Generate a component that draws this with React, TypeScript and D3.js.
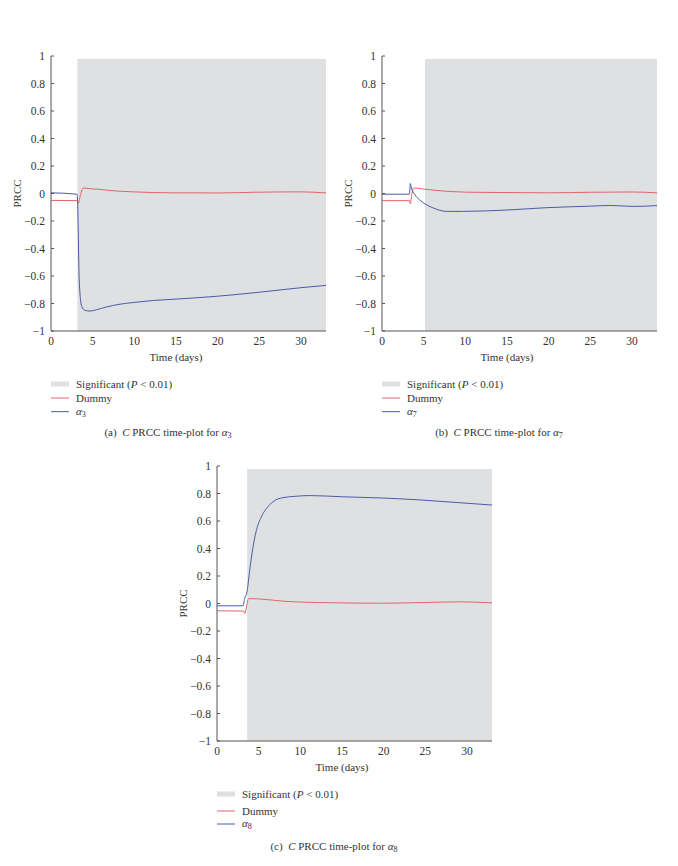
import { useRef, useEffect } from 'react';
import * as d3 from 'd3';

const xTicks = [0, 5, 10, 15, 20, 25, 30];
const yTicks = [1, 0.8, 0.6, 0.4, 0.2, 0, -0.2, -0.4, -0.6, -0.8, -1];

const dummyTimeA = [0, 3.15, 3.28, 3.5, 3.88, 5, 5.5, 7, 9.9, 14.3, 20.3, 24.3, 29.9, 33];
const dummyA = [-0.05, -0.052, -0.073, -0.02, 0.04, 0.033, 0.032, 0.022, 0.012, 0.005, 0.004, 0.009, 0.012, 0.004];
const alphaTimeA = [0, 3.1, 3.16, 3.4, 3.68, 4.08, 4.68, 5.48, 6.68, 8.28, 10, 12.3, 15, 20, 25, 30, 33];
const alpha3 = [0.005, -0.005, -0.02, -0.65, -0.82, -0.85, -0.855, -0.845, -0.825, -0.805, -0.792, -0.778, -0.768, -0.747, -0.718, -0.685, -0.668];

const dummyTimeB = [0, 3.3, 3.38, 3.6, 3.8, 5, 8, 10, 15, 20, 25, 30, 33];
const dummyB = [-0.052, -0.052, -0.075, 0.0, 0.04, 0.032, 0.015, 0.01, 0.007, 0.005, 0.009, 0.011, 0.005];
const alphaTimeB = [0, 3.3, 3.4, 3.53, 3.93, 4.5, 5.14, 6.14, 7.75, 9.76, 15, 19.8, 25, 27.4, 30.2, 33];
const alpha7 = [-0.005, -0.005, 0.072, 0.04, -0.007, -0.045, -0.075, -0.105, -0.13, -0.13, -0.12, -0.103, -0.092, -0.087, -0.094, -0.088];

const dummyTimeC = [0, 3.2, 3.32, 3.8, 5.9, 7.9, 10.3, 14.3, 20, 24.7, 29, 33];
const dummyC = [-0.053, -0.055, -0.073, 0.036, 0.029, 0.017, 0.01, 0.005, 0.002, 0.007, 0.012, 0.005];
const alphaTimeC = [0, 3.12, 3.32, 3.6, 3.92, 4.32, 4.72, 5.32, 5.92, 6.72, 7.92, 9.5, 11.1, 15.1, 19.9, 24.7, 29.1, 33];
const alpha8 = [-0.017, -0.017, 0.036, 0.085, 0.24, 0.41, 0.53, 0.63, 0.69, 0.74, 0.77, 0.78, 0.785, 0.776, 0.767, 0.752, 0.733, 0.716];

const shadeStarts = [3.16, 5.15, 3.62];
const panelLetters = ['a', 'b', 'c'];
const alphaIndex = ['3', '7', '8'];

const panels = [
  { x0: 51, top: 56, dT: dummyTimeA, d: dummyA, aT: alphaTimeA, a: alpha3, legend: [53, 67, 80.7, 101.5] },
  { x0: 382, top: 56, dT: dummyTimeB, d: dummyB, aT: alphaTimeB, a: alpha7, legend: [53, 67, 80.7, 101.5] },
  { x0: 217, top: 466, dT: dummyTimeC, d: dummyC, aT: alphaTimeC, a: alpha8, legend: [53, 70, 83, 105] },
];

const W = 275;
const H = 275;
const font = '"Liberation Serif", "Times New Roman", serif';
const RED = '#e3646a';
const BLUE = '#4c5ba6';
const SHADE = '#dfe0e2';
const AXIS = '#555';

const fmt = v => {
  if (v === 0) return '0';
  const s = Math.abs(v) === 1 ? '1' : Math.abs(v).toFixed(1);
  return (v < 0 ? '\u2212' : '') + s;
};

const App = () => {
  const ref = useRef(null);

  useEffect(() => {
    const svg = d3.select(ref.current);
    svg.selectAll('*').remove();
    svg.style('font-family', font);

    panels.forEach((p, i) => {
      const x = d3.scaleLinear().domain([0, 33]).range([p.x0, p.x0 + W]);
      const y = d3.scaleLinear().domain([-1, 1]).range([p.top + H, p.top]);
      const g = svg.append('g');
      const bottom = p.top + H;

      // significant region
      g.append('rect')
        .attr('x', x(shadeStarts[i]))
        .attr('y', y(0.978))
        .attr('width', x(33) - x(shadeStarts[i]))
        .attr('height', y(-1) - y(0.978))
        .attr('fill', SHADE);

      const line = d3
        .line()
        .x(d => x(d[0]))
        .y(d => y(d[1]))
        .curve(d3.curveMonotoneX);

      g.append('path')
        .attr('d', line(p.dT.map((t, k) => [t, p.d[k]])))
        .attr('fill', 'none')
        .attr('stroke', RED)
        .attr('stroke-width', 1);

      g.append('path')
        .attr('d', line(p.aT.map((t, k) => [t, p.a[k]])))
        .attr('fill', 'none')
        .attr('stroke', BLUE)
        .attr('stroke-width', 1);

      // axes
      g.append('line')
        .attr('x1', p.x0).attr('x2', p.x0)
        .attr('y1', y(1)).attr('y2', bottom)
        .attr('stroke', AXIS);
      g.append('line')
        .attr('x1', p.x0).attr('x2', x(33))
        .attr('y1', bottom).attr('y2', bottom)
        .attr('stroke', AXIS);

      yTicks.forEach(v => {
        g.append('line')
          .attr('x1', p.x0).attr('x2', p.x0 + 3)
          .attr('y1', y(v)).attr('y2', y(v))
          .attr('stroke', AXIS);
        g.append('text')
          .attr('x', p.x0 - 6)
          .attr('y', y(v))
          .attr('dy', '0.35em')
          .attr('text-anchor', 'end')
          .attr('font-size', 11.5)
          .attr('fill', '#333')
          .text(fmt(v));
      });

      xTicks.forEach(v => {
        g.append('text')
          .attr('x', x(v))
          .attr('y', bottom + 13.5)
          .attr('text-anchor', 'middle')
          .attr('font-size', 11.5)
          .attr('fill', '#333')
          .text(v);
      });

      g.append('text')
        .attr('x', (x(0) + x(30)) / 2)
        .attr('y', bottom + 29.5)
        .attr('text-anchor', 'middle')
        .attr('font-size', 11)
        .attr('fill', '#333')
        .text('Time (days)');

      g.append('text')
        .attr('transform', `translate(${p.x0 - 30},${y(0)}) rotate(-90)`)
        .attr('text-anchor', 'middle')
        .attr('font-size', 11)
        .attr('fill', '#333')
        .text('PRCC');

      // legend
      const [l1, l2, l3, cap] = p.legend;
      g.append('rect')
        .attr('x', p.x0)
        .attr('y', bottom + l1 - 2.5)
        .attr('width', 18)
        .attr('height', 5)
        .attr('fill', SHADE);
      g.append('line')
        .attr('x1', p.x0).attr('x2', p.x0 + 18)
        .attr('y1', bottom + l2).attr('y2', bottom + l2)
        .attr('stroke', RED);
      g.append('line')
        .attr('x1', p.x0).attr('x2', p.x0 + 18)
        .attr('y1', bottom + l3).attr('y2', bottom + l3)
        .attr('stroke', BLUE);

      const t1 = g.append('text')
        .attr('x', p.x0 + 25).attr('y', bottom + l1).attr('dy', '0.35em')
        .attr('font-size', 11).attr('fill', '#333');
      t1.append('tspan').text('Significant (');
      t1.append('tspan').attr('font-style', 'italic').text('P');
      t1.append('tspan').text(' < 0.01)');

      g.append('text')
        .attr('x', p.x0 + 25).attr('y', bottom + l2).attr('dy', '0.35em')
        .attr('font-size', 11).attr('fill', '#333')
        .text('Dummy');

      const t3 = g.append('text')
        .attr('x', p.x0 + 25).attr('y', bottom + l3).attr('dy', '0.3em')
        .attr('font-size', 11).attr('fill', '#333');
      t3.append('tspan').attr('font-style', 'italic').text('\u03b1');
      t3.append('tspan').attr('font-size', 8).attr('dy', 2).text(alphaIndex[i]);

      const c = g.append('text')
        .attr('x', p.x0 + 117).attr('y', bottom + cap).attr('dy', '0.35em')
        .attr('text-anchor', 'middle')
        .attr('font-size', 11).attr('fill', '#333');
      c.append('tspan').text(`(${panelLetters[i]})\u2002`);
      c.append('tspan').attr('font-style', 'italic').text('C');
      c.append('tspan').text(' PRCC time-plot for ');
      c.append('tspan').attr('font-style', 'italic').text('\u03b1');
      c.append('tspan').attr('font-size', 8).attr('dy', 2).text(alphaIndex[i]);
    });
  }, []);

  return (
    <svg
      ref={ref}
      width={678}
      height={866}
      style={{ position: 'absolute', left: 0, top: 0, background: '#fff' }}
    />
  );
};

export default App;
